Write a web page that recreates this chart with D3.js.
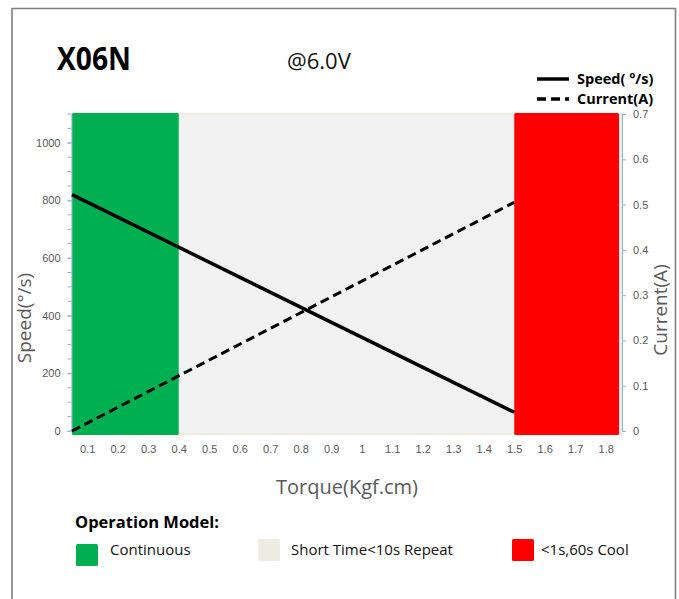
<!DOCTYPE html>
<meta charset="utf-8">
<style>
  body { margin: 0; background: #fff; }
  svg { display: block; font-family: 'Open Sans', sans-serif; }
  .tick text { fill: #595959; font-size: 11px; }
  .axis-title { fill: #595959; font-size: 19px; }
</style>
<script src="https://d3js.org/d3.v7.min.js"></script>
<body>
<div id="chart"></div>
<script>
// 数据
const torqueTicks = [0.1, 0.2, 0.3, 0.4, 0.5, 0.6, 0.7, 0.8, 0.9, 1, 1.1, 1.2, 1.3, 1.4, 1.5, 1.6, 1.7, 1.8];
const torquePts = [0.05, 1.5];
const speedVals = [820, 65];
const currentVals = [0, 0.505];
const speedTicks = [0, 200, 400, 600, 800, 1000];
const currentTicks = [0, 0.1, 0.2, 0.3, 0.4, 0.5, 0.6, 0.7];
const zoneNames = ["Continuous", "Short Time<10s Repeat", "<1s,60s Cool"];
const zoneFrom = [0.05, 0.05, 1.5];
const zoneTo = [0.4, 1.85, 1.85];
const zoneColors = ["#00b050", "#eeece1", "#ff0000"];

let width = 679, height = 599;
let svg = d3.select("#chart").append("svg")
  .attr("width", width)
  .attr("height", height);

// 外框
svg.append("path")
  .attr("d", "M12,600 L12,8.5 L675.5,8.5 L675.5,600")
  .attr("fill", "none")
  .attr("stroke", "#7f7f7f")
  .attr("stroke-width", 1.6);

let x = d3.scaleLinear().domain([0.05, 1.85]).range([72, 621]);
let ySpeed = d3.scaleLinear().domain([0, 1100]).range([431, 114]);
let yCur = d3.scaleLinear().domain([0, 0.7]).range([431, 114]);

// 区域背景
let plotTop = ySpeed(1100), plotBottom = ySpeed(0) + 3;
svg.append("rect")
  .attr("x", x(0.05)).attr("y", plotTop)
  .attr("width", x(1.85) - x(0.05)).attr("height", plotBottom - plotTop)
  .attr("fill", "#f1f1f1")
  .attr("stroke", "#eeece1").attr("stroke-width", 2.5);

svg.append("g").selectAll("rect")
  .data([0, 2])
  .join("rect")
  .attr("x", i => x(zoneFrom[i]))
  .attr("y", plotTop - 1)
  .attr("width", i => x(zoneTo[i]) - x(zoneFrom[i]) - (i === 2 ? 2 : 0))
  .attr("height", plotBottom - plotTop + 2)
  .attr("rx", 1.5)
  .attr("fill", i => zoneColors[i]);

// 左轴
let axisColor = "#8eb4e3";
let yLeft = svg.append("g")
  .attr("transform", `translate(${x(0.05) - 0.5},0)`)
  .call(d3.axisLeft(ySpeed).tickValues(speedTicks).tickSize(4).tickPadding(7).tickSizeOuter(0)
    .tickFormat(d3.format("d")));
yLeft.selectAll(".tick line").attr("stroke", axisColor);
yLeft.select(".domain").attr("stroke", axisColor);
yLeft.append("g").selectAll("line")
  .data(d3.range(0, 1101, 50))
  .join("line")
  .attr("x1", -4).attr("x2", 0)
  .attr("y1", d => ySpeed(d)).attr("y2", d => ySpeed(d))
  .attr("stroke", axisColor);

// 右轴
let yRight = svg.append("g")
  .attr("transform", `translate(${x(1.85) + 1},0)`)
  .call(d3.axisRight(yCur).tickValues(currentTicks).tickSize(4).tickPadding(7).tickSizeOuter(0)
    .tickFormat(d => d === 0 ? "0" : d3.format(".1f")(d)));
yRight.selectAll(".tick line").attr("stroke", axisColor);
yRight.select(".domain").attr("stroke", axisColor);

// 横轴
let xAxis = svg.append("g")
  .attr("transform", `translate(0,${ySpeed(0)})`)
  .call(d3.axisBottom(x).tickValues(torqueTicks).tickSize(0).tickPadding(14)
    .tickFormat(d => d3.format("~g")(d)));
xAxis.select(".domain").remove();

// 曲线
let line = d3.line();
svg.append("path")
  .attr("d", line(torquePts.map((t, i) => [x(t), ySpeed(speedVals[i])])))
  .attr("fill", "none").attr("stroke", "#000").attr("stroke-width", 3.5);
svg.append("path")
  .attr("d", line(torquePts.map((t, i) => [x(t), yCur(currentVals[i])])))
  .attr("fill", "none").attr("stroke", "#000").attr("stroke-width", 3)
  .attr("stroke-dasharray", "9,5");

// 轴标题
svg.append("text").attr("class", "axis-title")
  .attr("transform", "translate(31,318) rotate(-90)")
  .attr("text-anchor", "middle").text("Speed(°/s)");
svg.append("text").attr("class", "axis-title")
  .attr("transform", "translate(667,310) rotate(-90)")
  .attr("text-anchor", "middle").text("Current(A)");
svg.append("text").attr("class", "axis-title")
  .attr("x", 347).attr("y", 494)
  .attr("text-anchor", "middle").style("font-size", "20px").text("Torque(Kgf.cm)");

// 标题
svg.append("text")
  .attr("x", 57).attr("y", 70)
  .attr("textLength", 74).attr("lengthAdjust", "spacingAndGlyphs")
  .style("font-weight", "bold").style("font-size", "33px")
  .text("X06N");
svg.append("text")
  .attr("x", 287).attr("y", 69)
  .style("font-size", "22px").attr("fill", "#111")
  .text("@6.0V");

// 右上图例
let lg = svg.append("g").style("font-weight", "bold").style("font-size", "14.5px");
[["Speed( °/s)", null], ["Current(A)", "9,5"]].forEach((d, i) => {
  lg.append("line")
    .attr("x1", 537).attr("x2", 569)
    .attr("y1", 79 + i * 20).attr("y2", 79 + i * 20)
    .attr("stroke", "#000").attr("stroke-width", 3.5)
    .attr("stroke-dasharray", d[1]);
  lg.append("text")
    .attr("x", 577).attr("y", 84 + i * 20)
    .text(d[0]);
});

// 底部图例
svg.append("text")
  .attr("x", 75).attr("y", 528)
  .style("font-weight", "bold").style("font-size", "16.5px")
  .text("Operation Model:");
let legX = [76, 258, 512], legT = [110, 291, 541], legY = [544, 539, 539];
zoneNames.forEach((name, i) => {
  svg.append("rect")
    .attr("x", legX[i]).attr("y", legY[i])
    .attr("width", 22).attr("height", 22).attr("rx", 1.5)
    .attr("fill", zoneColors[i]);
  svg.append("text")
    .attr("x", legT[i]).attr("y", 555)
    .style("font-size", "15px").attr("fill", "#111")
    .text(name);
});
</script>
</body>
